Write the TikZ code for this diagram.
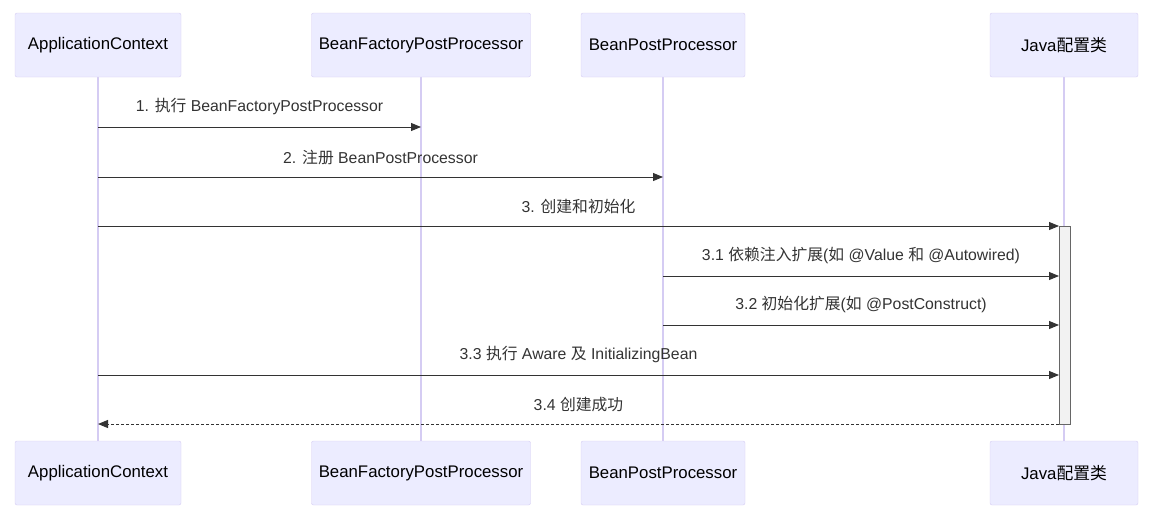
\documentclass[tikz,border=0pt]{standalone}
\usepackage{fontspec}
\setmainfont{Liberation Sans}
\newfontfamily\cjk{Noto Sans CJK SC}
\usetikzlibrary{arrows.meta}
\definecolor{actfill}{HTML}{ECECFF}
\definecolor{actline}{HTML}{D5CCF3}
\definecolor{msg}{HTML}{333333}
\begin{document}
\begin{tikzpicture}[x=1pt,y=-1pt,
  actor/.style={draw=actline,fill=actfill,rounded corners=2pt,minimum height=64pt,inner sep=0pt,font=\fontsize{16.8}{19}\selectfont,text=black},
  life/.style={draw=actline,line width=1.5pt},
  m/.style={draw=msg,line width=1pt,-{Triangle[length=10pt,width=8pt]}},
  d/.style={m,dash pattern=on 3pt off 2pt},
  lab/.style={font=\fontsize{15.8}{18}\selectfont,text=msg,anchor=south,inner sep=0pt}]
\useasboundingbox (0,0) rectangle (1154,525);
\foreach \n/\x/\w/\t in {a/98/166/ApplicationContext,b/421/219/BeanFactoryPostProcessor,c/663/164/BeanPostProcessor,j/1064/148/Java{\cjk 配置类}}{
  \draw[life] (\x,77) -- (\x,441);
  \node[actor,minimum width=\w pt] (\n t) at (\x,45) {\t};
  \node[actor,minimum width=\w pt] (\n b) at (\x,473) {\t};
}
\draw[draw=gray!80!black,fill=gray!10] (1059,226) rectangle (1070,424);
\coordinate (a1) at (98,127); \coordinate (b1) at (421,127);
\coordinate (a2) at (98,177); \coordinate (c2) at (663,177);
\coordinate (a3) at (98,226); \coordinate (j3) at (1059,226);
\coordinate (c4) at (663,276); \coordinate (j4) at (1059,276);
\coordinate (c5) at (663,325); \coordinate (j5) at (1059,325);
\coordinate (a6) at (98,375); \coordinate (j6) at (1059,375);
\coordinate (j7) at (1059,424); \coordinate (a7) at (98,424);
\tikzset{every node/.append style={}}
\draw[m] (a1) -- node[lab,above=12pt]{1. {\cjk 执行} BeanFactoryPostProcessor} (b1);
\draw[m] (a2) -- node[lab,above=12pt]{2. {\cjk 注册} BeanPostProcessor} (c2);
\draw[m] (a3) -- node[lab,above=12pt]{3. {\cjk 创建和初始化}} (j3);
\draw[m] (c4) -- node[lab,above=12pt]{3.1 {\cjk 依赖注入扩展}({\cjk 如} @Value {\cjk 和} @Autowired)} (j4);
\draw[m] (c5) -- node[lab,above=12pt]{3.2 {\cjk 初始化扩展}({\cjk 如} @PostConstruct)} (j5);
\draw[m] (a6) -- node[lab,above=12pt]{3.3 {\cjk 执行} Aware {\cjk 及} InitializingBean} (j6);
\draw[d] (j7) -- node[lab,above=12pt]{3.4 {\cjk 创建成功}} (a7);
\end{tikzpicture}
\end{document}
